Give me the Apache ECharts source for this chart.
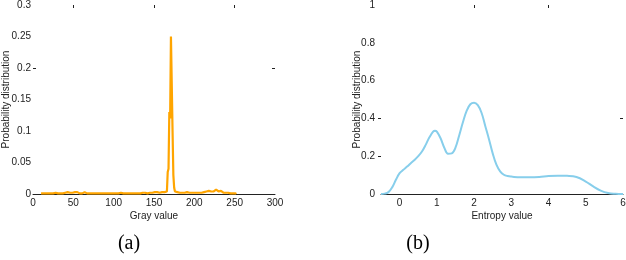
<!DOCTYPE html>
<html><head><meta charset="utf-8">
<script src="https://cdn.jsdelivr.net/npm/echarts@6/dist/echarts.min.js"></script>
<style>html,body{margin:0;padding:0;background:#fff}#c{width:626px;height:260px}</style>
</head><body><div id="c"></div>
<script>
// (a) gray-level histogram: gray values 10..252
const grayStart = 10;
const grayProb = [
 0.001,0.001,0.001,0.001,0.001,0.001,0.001,0.001,0.001,0.001, // 10-19
 0.001,0.001,0.001,0.001,0.001,0.001,0.001,0.001,0.002,0.001, // 20-29
 0.001,0.001,0.001,0.001,0.001,0.002,0.001,0.001,0.001,0.001, // 30-39
 0.002,0.001,0.001,0.003,0.002,0.003,0.002,0.001,0.003,0.002, // 40-49
 0.002,0.001,0.003,0.002,0.001,0.003,0.001,0.002,0.001,0.003, // 50-59
 0.002,0.001,0.002,0.001,0.003,0.001,0.002,0.001,0.001,0.002, // 60-69
 0.001,0.001,0.001,0.001,0.001,0.001,0.001,0.002,0.002,0.001, // 70-79
 0.001,0.001,0.001,0.001,0.001,0.001,0.001,0.001,0.001,0.001, // 80-89
 0.001,0.001,0.001,0.001,0.001,0.001,0.001,0.001,0.001,0.001, // 90-99
 0.001,0.001,0.001,0.001,0.001,0.001,0.001,0.001,0.001,0.002, // 100-109
 0.001,0.001,0.001,0.001,0.001,0.001,0.001,0.001,0.001,0.001, // 110-119
 0.001,0.001,0.002,0.002,0.001,0.001,0.001,0.001,0.001,0.001, // 120-129
 0.001,0.001,0.001,0.001,0.001,0.001,0.002,0.001,0.001,0.002, // 130-139
 0.001,0.002,0.001,0.002,0.001,0.002,0.002,0.003,0.002,0.001, // 140-149
 0.002,0.003,0.002,0.002,0.003,0.002,0.003,0.002,0.003,0.002, // 150-159
 0.003,0.002,0.003,0.003,0.002,0.003,0.004,0.035,0.04,0.13,   // 160-169
 0.12,0.25,0.25,0.1,0.03,0.01,0.004,0.003,0.002,0.003,         // 170-179
 0.002,0.003,0.002,0.002,0.003,0.002,0.002,0.003,0.002,0.002, // 180-189
 0.002,0.003,0.002,0.002,0.002,0.002,0.003,0.002,0.002,0.002, // 190-199
 0.002,0.002,0.003,0.002,0.002,0.003,0.002,0.003,0.002,0.002, // 200-209
 0.003,0.004,0.003,0.005,0.003,0.004,0.003,0.004,0.005,0.004, // 210-219
 0.006,0.004,0.007,0.005,0.004,0.006,0.004,0.007,0.005,0.006, // 220-229
 0.004,0.006,0.007,0.005,0.003,0.002,0.002,0.002,0.002,0.002, // 230-239
 0.002,0.002,0.002,0.002,0.001,0.001,0.001,0.001,0.001,0.001, // 240-249
 0.001,0.001,0.0                                              // 250-252
];
// (b) entropy distribution
const entropyX = [-0.5,-0.4,-0.3,-0.2,-0.1,0,0.1,0.2,0.3,0.4,0.5,0.6,0.7,0.8,0.9,0.95,1.0,1.1,1.2,1.3,1.4,1.5,1.6,1.7,1.8,1.9,2.0,2.1,2.2,2.3,2.4,2.5,2.6,2.7,2.8,2.9,3.0,3.25,3.5,3.75,4.0,4.25,4.5,4.75,5.0,5.2,5.4,5.6,5.8,6.0];
const entropyY = [0,0.002,0.01,0.035,0.075,0.11,0.128,0.145,0.163,0.18,0.2,0.225,0.26,0.3,0.33,0.335,0.33,0.295,0.245,0.213,0.215,0.245,0.31,0.38,0.44,0.475,0.483,0.47,0.43,0.36,0.29,0.215,0.155,0.12,0.102,0.095,0.092,0.088,0.088,0.09,0.095,0.097,0.096,0.09,0.066,0.04,0.018,0.005,0.001,0];
const grayTicks = [0,50,100,150,200,250,300];
const entropyTicks = [0,1,2,3,4,5,6];

const grayData = grayProb.map((v,i)=>[grayStart+i,v]);
const entData = entropyX.map((x,i)=>[x,entropyY[i]]);

const font = 'Liberation Sans, Arial, sans-serif';
const lab = {fontFamily:font,fontSize:10,color:'#222'};
const chart = echarts.init(document.getElementById('c'),null,{renderer:'canvas'});
const hidden = {show:false};
const noLabel = {show:true,formatter:function(){return '';}};
function tickOnly(vals, inside){
  return {show:true,inside:inside,length:3,customValues:vals,lineStyle:{color:'#222',width:1}};
}
chart.setOption({
  animation:false,
  grid:[
    {left:33,right:351,top:5,bottom:66,containLabel:false,outerBoundsMode:'none'},
    {left:381,right:3,top:5,bottom:66,containLabel:false,outerBoundsMode:'none'}
  ],
  title:[
    {text:'(a)',left:124,top:229,textAlign:'center',textStyle:{fontFamily:'Liberation Serif, Times New Roman, serif',fontSize:20,fontWeight:'normal',color:'#000'}},
    {text:'(b)',left:413,top:229,textAlign:'center',textStyle:{fontFamily:'Liberation Serif, Times New Roman, serif',fontSize:20,fontWeight:'normal',color:'#000'}}
  ],
  xAxis:[
    {gridIndex:0,type:'value',min:0,max:300,interval:50,position:'bottom',
     name:'Gray value',nameLocation:'middle',nameGap:17,nameTextStyle:lab,nameMoveOverlap:false,
     axisLine:{show:true,onZero:false,lineStyle:{color:'#222',width:1}},axisTick:hidden,splitLine:hidden,
     axisLabel:Object.assign({margin:4,customValues:grayTicks},lab)},
    {gridIndex:0,type:'value',min:0,max:300,interval:50,position:'top',
     axisLine:{show:false,onZero:false},axisLabel:noLabel,splitLine:hidden,
     axisTick:tickOnly([50,150,250],true)},
    {gridIndex:1,type:'value',min:-0.5,max:6,position:'bottom',
     name:'Entropy value',nameLocation:'middle',nameGap:17,nameTextStyle:lab,nameMoveOverlap:false,
     axisLine:{show:true,onZero:false,lineStyle:{color:'#222',width:1}},axisTick:hidden,splitLine:hidden,
     axisLabel:Object.assign({margin:4,customValues:entropyTicks},lab)},
    {gridIndex:1,type:'value',min:-0.5,max:6,position:'top',
     axisLine:{show:false,onZero:false},axisLabel:noLabel,splitLine:hidden,
     axisTick:tickOnly([2,4],true)}
  ],
  yAxis:[
    {gridIndex:0,type:'value',min:0,max:0.3,interval:0.05,position:'left',
     name:'Probability distribution',nameLocation:'middle',nameGap:22,nameTextStyle:lab,nameMoveOverlap:false,
     axisLine:{show:false,onZero:false},splitLine:hidden,
     axisTick:tickOnly([0.2],true),
     axisLabel:Object.assign({margin:2},lab)},
    {gridIndex:0,type:'value',min:0,max:0.3,interval:0.05,position:'right',
     axisLine:{show:false,onZero:false},axisLabel:noLabel,splitLine:hidden,
     axisTick:tickOnly([0.2],true)},
    {gridIndex:1,type:'value',min:0,max:1,interval:0.2,position:'left',
     name:'Probability distribution',nameLocation:'middle',nameGap:19,nameTextStyle:lab,nameMoveOverlap:false,
     axisLine:{show:false,onZero:false},splitLine:hidden,
     axisTick:tickOnly([0.2,0.4],false),
     axisLabel:Object.assign({margin:6},lab)},
    {gridIndex:1,type:'value',min:0,max:1,interval:0.2,position:'right',
     axisLine:{show:false,onZero:false},axisLabel:noLabel,splitLine:hidden,
     axisTick:tickOnly([0.4],true)}
  ],
  series:[
    {type:'line',xAxisIndex:0,yAxisIndex:0,data:grayData,showSymbol:false,
     lineStyle:{color:'#FFA500',width:2.2},z:3},
    {type:'line',xAxisIndex:2,yAxisIndex:2,data:entData,showSymbol:false,smooth:0.4,
     lineStyle:{color:'#87CEEB',width:2},z:3}
  ]
});
</script></body></html>
